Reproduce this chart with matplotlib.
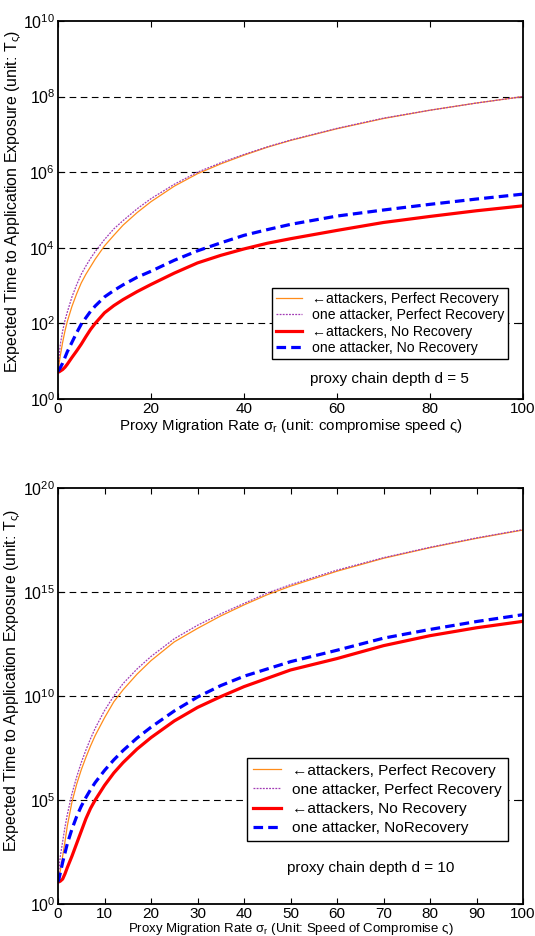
import numpy as np
import matplotlib
matplotlib.use("Agg")
import matplotlib.pyplot as plt
from matplotlib.ticker import LogLocator, NullLocator

plt.rcParams['font.family'] = ['Liberation Sans', 'DejaVu Sans']
plt.rcParams['mathtext.fontset'] = 'custom'
plt.rcParams['mathtext.rm'] = 'Liberation Sans'
plt.rcParams['mathtext.it'] = 'Liberation Sans'
plt.rcParams['mathtext.default'] = 'regular'

# sigma_r values (x axis), shared by both panels
sigma = [0, 0.25, 0.5, 1, 1.5, 2, 3, 4, 5, 6, 7, 8, 10, 12, 14, 17, 20,
         25, 30, 35, 40, 45, 50, 60, 70, 80, 90, 100]

# top panel, d = 5 (log10 of expected time)
d5_many_perfect = [0.73, 0.95, 1.15, 1.5, 1.8, 2.05, 2.45, 2.78, 3.07, 3.3, 3.5, 3.7,
                   4.05, 4.33, 4.6, 4.93, 5.22, 5.63, 5.96, 6.22, 6.45, 6.66, 6.84,
                   7.15, 7.42, 7.64, 7.83, 8.0]
d5_one_perfect = [0.73, 1.15, 1.45, 1.8, 2.08, 2.3, 2.7, 3.02, 3.3, 3.52, 3.72, 3.9,
                  4.22, 4.5, 4.72, 5.03, 5.3, 5.68, 6.0, 6.25, 6.47, 6.67, 6.85,
                  7.16, 7.43, 7.64, 7.83, 8.0]
d5_many_none = [0.71, 0.72, 0.74, 0.78, 0.84, 0.92, 1.1, 1.27, 1.45, 1.65, 1.84, 2.0,
                2.28, 2.47, 2.63, 2.84, 3.03, 3.33, 3.6, 3.8, 3.97, 4.12, 4.24,
                4.46, 4.67, 4.83, 4.98, 5.11]
d5_one_none = [0.73, 0.78, 0.83, 0.95, 1.1, 1.25, 1.5, 1.75, 1.98, 2.15, 2.32, 2.46,
               2.7, 2.87, 3.02, 3.22, 3.38, 3.67, 3.92, 4.13, 4.33, 4.48, 4.62,
               4.84, 5.0, 5.15, 5.29, 5.42]

# bottom panel, d = 10
d10_many_perfect = [1.06, 1.3, 1.6, 2.3, 3.0, 3.75, 4.9, 5.75, 6.45, 7.05, 7.6, 8.1,
                    8.95, 9.72, 10.3, 11.05, 11.7, 12.6, 13.25, 13.85, 14.38, 14.87,
                    15.28, 16.0, 16.62, 17.13, 17.58, 17.98]
d10_one_perfect = [1.06, 1.75, 2.3, 3.0, 3.7, 4.3, 5.3, 6.1, 6.8, 7.4, 7.95, 8.45,
                   9.3, 10.0, 10.6, 11.3, 11.9, 12.75, 13.4, 13.95, 14.45, 14.95,
                   15.35, 16.05, 16.65, 17.15, 17.6, 18.0]
d10_many_none = [1.06, 1.07, 1.1, 1.2, 1.45, 1.75, 2.3, 2.9, 3.5, 4.1, 4.6, 5.0,
                 5.7, 6.3, 6.8, 7.45, 8.0, 8.8, 9.45, 9.97, 10.45, 10.85,
                 11.25, 11.8, 12.42, 12.9, 13.28, 13.59]
d10_one_none = [1.06, 1.25, 1.5, 2.0, 2.45, 2.9, 3.6, 4.2, 4.7, 5.12, 5.5, 5.84,
                6.42, 6.93, 7.38, 7.98, 8.5, 9.28, 9.95, 10.5, 10.95, 11.3,
                11.65, 12.2, 12.78, 13.2, 13.58, 13.91]

labels_top = ["←attackers, Perfect Recovery", "one attacker, Perfect Recovery",
              "←attackers, No Recovery", "one attacker, No Recovery"]
labels_bot = ["←attackers, Perfect Recovery", "one attacker, Perfect Recovery",
              "←attackers, No Recovery", "one attacker, NoRecovery"]

styles = [dict(color='#ff8c1a', lw=0.9, ls='-'),
          dict(color='#a23bb5', lw=0.9, ls=(0, (1.5, 1))),
          dict(color='#ff0000', lw=2.3, ls='-'),
          dict(color='#0000ff', lw=2.3, ls=(0, (3, 1.6)))]

fig = plt.figure(figsize=(5.35, 9.36), dpi=100)
ax1 = fig.add_axes([58/535, 1-399/936, 465/535, 378/936])
ax2 = fig.add_axes([58/535, 1-904/936, 465/535, 416/936])


def draw(ax, series, labels, ymax, ystep, xstep, leg_anchor, leg_size, leg_space,
         leg_pad, txt, txt_pos):
    x = np.array(sigma)
    for s, lab, st in zip(series, labels, styles):
        ax.plot(x, 10.0 ** np.array(s), label=lab, **st)
    ax.set_yscale('log')
    ax.set_xlim(0, 100)
    ax.set_ylim(1, 10.0 ** ymax)
    ax.set_xticks(np.arange(0, 101, xstep))
    ax.yaxis.set_major_locator(LogLocator(base=10.0 ** ystep))
    ax.yaxis.set_minor_locator(NullLocator())
    ax.tick_params(direction='in', top=True, right=True, length=4, width=0.8, pad=2)
    ax.tick_params(axis='x', labelsize=11)
    ax.tick_params(axis='y', labelsize=11.5)
    for sp in ax.spines.values():
        sp.set_linewidth(1.3)
    for k in range(ystep, ymax, ystep):
        ax.axhline(10.0 ** k, color='black', lw=0.8, ls=(0, (6, 4)), zorder=0.5)
    leg = ax.legend(loc='lower right', bbox_to_anchor=leg_anchor, fancybox=False,
                    framealpha=1, edgecolor='black', fontsize=leg_size,
                    handlelength=1.85, borderpad=leg_pad, labelspacing=leg_space,
                    handletextpad=0.7, borderaxespad=0)
    leg.get_frame().set_linewidth(1.0)
    ax.text(txt_pos[0], txt_pos[1], txt, transform=ax.transAxes,
            ha='center', va='center', fontsize=11)


draw(ax1, [d5_many_perfect, d5_one_perfect, d5_many_none, d5_one_none], labels_top,
     10, 2, 20, (0.968, 0.105), 10.1, 0.17, 0.3,
     "proxy chain depth d = 5", (0.712, 0.053))
ax1.set_xlabel(r"Proxy Migration Rate $\sigma_r$ (unit: compromise speed ς)",
               fontsize=10.8, labelpad=1)
ax1.set_ylabel(r"Expected Time to Application Exposure (unit: T$_\varsigma$)",
               fontsize=11.4)
ax1.yaxis.set_label_coords(-0.073, 0.524)

draw(ax2, [d10_many_perfect, d10_one_perfect, d10_many_none, d10_one_none], labels_bot,
     20, 5, 10, (0.967, 0.151), 11.1, 0.34, 0.38,
     "proxy chain depth d = 10", (0.672, 0.087))
ax2.set_xlabel(r"Proxy Migration Rate $\sigma_r$ (Unit: Speed of Compromise ς)",
               fontsize=9.5, labelpad=0)
ax2.set_ylabel(r"Expected Time to Application Exposure (unit: T$_\varsigma$)",
               fontsize=11.4)
ax2.yaxis.set_label_coords(-0.076, 0.538)

fig.savefig("out.png", dpi=100)
